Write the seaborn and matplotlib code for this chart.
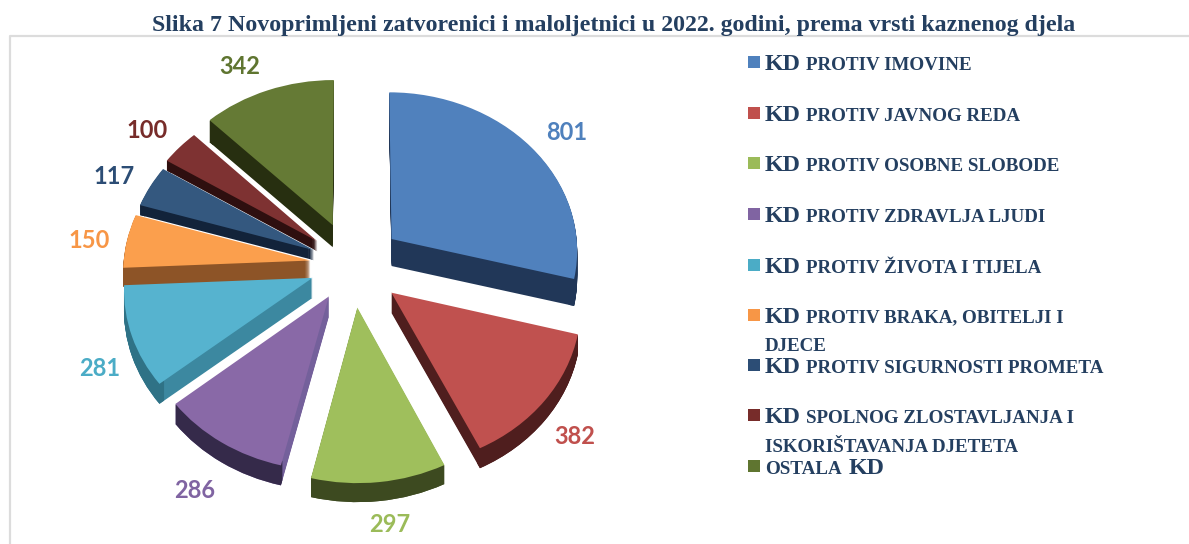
import numpy as np
import matplotlib
matplotlib.use('Agg')
import matplotlib.pyplot as plt
from matplotlib.patches import Rectangle
from matplotlib.transforms import Transform
import seaborn as sns

# Data
categories = ['KD protiv imovine', 'KD protiv javnog reda', 'KD protiv osobne slobode',
              'KD protiv zdravlja ljudi', 'KD protiv života i tijela',
              'KD protiv braka, obitelji i djece', 'KD protiv sigurnosti prometa',
              'KD spolnog zlostavljanja i iskorištavanja djeteta', 'ostala KD']
values = [801, 382, 297, 286, 281, 150, 117, 100, 342]
title = 'Slika 7 Novoprimljeni zatvorenici i maloljetnici u 2022. godini, prema vrsti kaznenog djela'

# Styles
top_colors = ['#5081bd', '#c0514f', '#9fbf5c', '#8969a7', '#56b3cf', '#fb9f4d', '#34587f', '#7e3232', '#657a35']
cut_colors = ['#213758', '#4f1e1e', '#3d4a20', '#74609b', '#3c88a0', '#8d5427', '#12233a', '#2e0f0f', '#272f10']
rim_colors = ['#213758', '#4f1e1e', '#3d4a20', '#352a4a', '#2f7286', '#8d5427', '#12233a', '#2e0f0f', '#272f10']
label_colors = ['#4f81bd', '#c0504d', '#9bbb59', '#8064a2', '#4bacc6', '#f79646', '#2c4d75', '#772c2a', '#5f7530']
explode = [0.27, 0.27, 0.265, 0.23, 0.225, 0.225, 0.225, 0.24, 0.275]
depth = [27, 20, 19, 20, 20, 19, 10, 10, 22]
draw_order = [0, 8, 7, 6, 5, 4, 3, 1, 2]
label_pos = [(567, 132), (575, 437), (390, 525), (195, 491), (100, 368), (89, 241), (114, 176), (147, 131), (240, 66)]
ink = '#243f60'

W, H = 1189, 544
CX, CY, RX, RY, PERSP = 352, 265, 187, 159, 0.0625


class TiltTransform(Transform):
    # pie plane -> picture pixels, a bit of perspective like the 3D pie
    input_dims = 2
    output_dims = 2

    def __init__(self, drop=0):
        super().__init__()
        self.drop = drop

    def transform_non_affine(self, values):
        x, y = np.asarray(values).T
        k = 1 / (1 + PERSP * y)
        return np.column_stack([CX + RX * x * k, CY + self.drop - RY * y * k])


sns.set_theme(style='white')
plt.rcParams['font.family'] = ['Liberation Serif', 'DejaVu Serif']

fig = plt.figure(figsize=(W / 100, H / 100), dpi=100)
ax = fig.add_axes([0, 0, 1, 1])


def draw_pie(colors, drop, z_extra, ring=None):
    props = {'linewidth': 0}
    if ring:
        props['width'] = ring
    wedges, _ = ax.pie(values, explode=explode, colors=sns.color_palette(colors), startangle=90,
                       counterclock=False, wedgeprops=props)
    for i, w in enumerate(wedges):
        w.set_transform(TiltTransform(drop) + ax.transData)
        w.set_zorder(draw_order.index(i) * 3 + z_extra)
        w.set_visible(drop <= depth[i])


# cut faces, outer rim, then the tops
for drop in range(max(depth), 0, -1):
    draw_pie(cut_colors, drop, 1)
for drop in range(max(depth), 0, -1):
    draw_pie(rim_colors, drop, 2, ring=0.03)
draw_pie(top_colors, 0, 3)

ax.set_aspect('auto')
ax.set_xlim(0, W)
ax.set_ylim(H, 0)
ax.axis('off')

# Chart frame
ax.plot([9.5, 9.5, W], [H, 35.5, 35.5], color='#dcdcdc', lw=1.6, zorder=0)

# Title
ax.text(613.5, 31, title, ha='center', va='baseline', fontsize=17.2, fontweight='bold', color=ink)

# Value labels
for v, pos, c in zip(values, label_pos, label_colors):
    ax.text(pos[0], pos[1], str(v), ha='center', va='center', color=c, fontsize=17,
            fontweight='bold', family='Lato', zorder=40)

# Legend, KD is set larger than the small caps
baselines = [70, 120.7, 170.7, 221.7, 272.7, 322.7, 373.3, 423.3, 474.3]
second_lines = {5: ('DJECE', 350.7), 7: ('ISKORIŠTAVANJA DJETETA', 451.7)}
for i, (name, base) in enumerate(zip(categories, baselines)):
    ax.add_patch(Rectangle((748, base - 14), 12, 12, color=label_colors[i], lw=0))
    if name.startswith('KD'):
        first = name[3:].upper()
        if i in second_lines:
            first = first[:-(len(second_lines[i][0]) + 1)]
        ax.text(765, base, 'KD', fontsize=17.3, fontweight='bold', color=ink)
        ax.text(806.5, base, first, fontsize=13.7, fontweight='bold', color=ink)
    else:
        ax.text(765, base, 'OSTALA', fontsize=13.7, fontweight='bold', color=ink)
        ax.text(849, base, 'KD', fontsize=17.3, fontweight='bold', color=ink)
    if i in second_lines:
        ax.text(765, second_lines[i][1], second_lines[i][0], fontsize=13.7, fontweight='bold', color=ink)

fig.savefig('out.png', dpi=100)
